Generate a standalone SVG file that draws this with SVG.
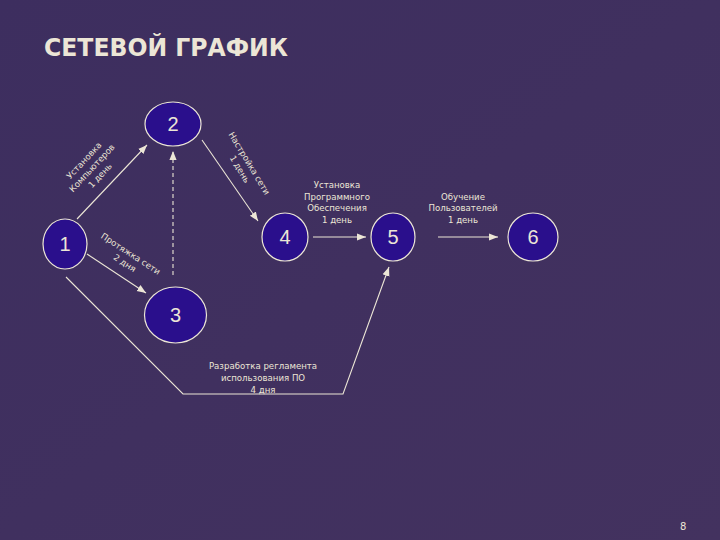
<svg xmlns="http://www.w3.org/2000/svg" width="720" height="540" viewBox="0 0 720 540">
<defs>
<linearGradient id="bg" x1="0" y1="0" x2="1" y2="1">
<stop offset="0" stop-color="#3d2e5f"/>
<stop offset="1" stop-color="#43325f"/>
</linearGradient>
<marker id="ah" viewBox="0 0 10 10" refX="10" refY="5" markerWidth="9" markerHeight="9" markerUnits="userSpaceOnUse" orient="auto">
<path d="M0,1 L10,5 L0,9 z" fill="#ece6d6"/>
</marker>
<style>
.edge{stroke:#ece6d6;stroke-width:1.1;fill:none}
.node ellipse{fill:#2a0f8c;stroke:#ece6d6;stroke-width:1.2}
.node text{font-family:"Liberation Sans","DejaVu Sans",sans-serif;font-size:20px;fill:#ece6d6;text-anchor:middle}
.lbl{font-family:"DejaVu Sans","Liberation Sans",sans-serif;font-size:8.6px;fill:#ece6d6;text-anchor:middle}
.title{font-family:"DejaVu Sans","Liberation Sans",sans-serif;font-size:24px;font-weight:bold;fill:#ece6d6}
</style>
</defs>
<rect width="720" height="540" fill="url(#bg)"/>
<text class="title" x="44" y="56" textLength="244" lengthAdjust="spacingAndGlyphs">СЕТЕВОЙ ГРАФИК</text>
<g id="connectors">
<line class="edge" x1="77" y1="219" x2="147" y2="145" marker-end="url(#ah)"/>
<line class="edge" x1="87" y1="254" x2="146" y2="293" marker-end="url(#ah)"/>
<line class="edge" x1="173" y1="275" x2="173" y2="151" stroke-dasharray="4,3" marker-end="url(#ah)"/>
<line class="edge" x1="202" y1="140" x2="258" y2="221" marker-end="url(#ah)"/>
<line class="edge" x1="313" y1="237" x2="366" y2="237" marker-end="url(#ah)"/>
<line class="edge" x1="438" y1="237" x2="498" y2="237" marker-end="url(#ah)"/>
<polyline class="edge" points="66,277 183,394 343,394 389,267" marker-end="url(#ah)"/>
<g transform="translate(92,168) rotate(-47)">
<text class="lbl" x="0" y="-8">Установка</text>
<text class="lbl" x="0" y="3">Компьютеров</text>
<text class="lbl" x="0" y="14">1 день</text>
</g>
<g transform="translate(245,166) rotate(59)">
<text class="lbl" x="0" y="-2">Настройка сети</text>
<text class="lbl" x="0" y="9">1 день</text>
</g>
<g transform="translate(128,258) rotate(33)">
<text class="lbl" x="0" y="-2">Протяжка сети</text>
<text class="lbl" x="0" y="9">2 дня</text>
</g>
<text class="lbl" x="337" y="188">Установка</text>
<text class="lbl" x="337" y="199.5">Программного</text>
<text class="lbl" x="337" y="211">Обеспечения</text>
<text class="lbl" x="337" y="222.5">1 день</text>
<text class="lbl" x="463" y="199.5">Обучение</text>
<text class="lbl" x="463" y="211">Пользователей</text>
<text class="lbl" x="463" y="222.5">1 день</text>
<text class="lbl" x="263" y="369">Разработка регламента</text>
<text class="lbl" x="263" y="381">использования ПО</text>
<text class="lbl" x="263" y="393">4 дня</text>
</g>
<g id="node1" class="node"><ellipse cx="65" cy="244" rx="22" ry="25"/><text x="65" y="251">1</text></g>
<g id="node2" class="node"><ellipse cx="173" cy="124" rx="28" ry="22"/><text x="173" y="131">2</text></g>
<g id="node3" class="node"><ellipse cx="175.5" cy="315" rx="31" ry="28"/><text x="175.5" y="322">3</text></g>
<g id="node4" class="node"><ellipse cx="285" cy="237" rx="23" ry="24"/><text x="285" y="244">4</text></g>
<g id="node5" class="node"><ellipse cx="393" cy="237" rx="22" ry="24"/><text x="393" y="244">5</text></g>
<g id="node6" class="node"><ellipse cx="533" cy="237" rx="25" ry="24"/><text x="533" y="244">6</text></g>
<text x="680" y="530" font-family="DejaVu Sans, sans-serif" font-size="10" fill="#ece6d6">8</text>
</svg>
